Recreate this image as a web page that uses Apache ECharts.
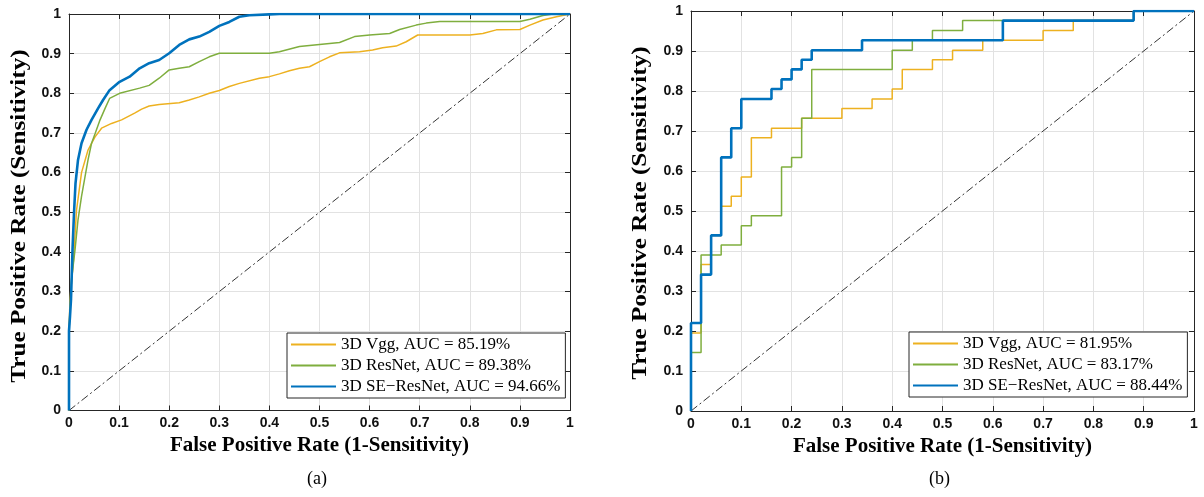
<!DOCTYPE html>
<html>
<head>
<meta charset="utf-8">
<script src="https://cdn.jsdelivr.net/npm/echarts@6/dist/echarts.min.js"></script>
<style>
html,body{margin:0;padding:0;background:#fff;}
#c{width:1204px;height:497px;}
</style>
</head>
<body>
<div id="c"></div>
<script>
// ---------- data ----------
const tickLabels = ['0','0.1','0.2','0.3','0.4','0.5','0.6','0.7','0.8','0.9','1'];
const xTitle = 'False Positive Rate (1-Sensitivity)';
const yTitle = 'True Positive Rate (Sensitivity)';
const captions = ['(a)', '(b)'];

const legendA = ['3D Vgg, AUC = 85.19%', '3D ResNet, AUC = 89.38%', '3D SE\u2212ResNet, AUC = 94.66%'];
const legendB = ['3D Vgg, AUC = 81.95%', '3D ResNet, AUC = 83.17%', '3D SE\u2212ResNet, AUC = 88.44%'];

const chanceFpr = [0, 1];
const chanceTpr = [0, 1];

// (a) smooth ROC curves
const vggA_fpr = [0,0,0.002,0.009,0.015,0.025,0.038,0.052,0.065,0.085,0.105,0.131,0.145,0.16,0.18,0.22,0.24,0.26,0.28,0.3,0.32,0.34,0.38,0.4,0.42,0.44,0.46,0.48,0.5,0.52,0.54,0.58,0.606,0.626,0.653,0.673,0.696,0.8,0.826,0.853,0.9,0.92,0.946,0.973,1];
const vggA_tpr = [0,0.2,0.28,0.38,0.505,0.6,0.657,0.69,0.712,0.724,0.733,0.75,0.76,0.768,0.772,0.776,0.783,0.791,0.8,0.807,0.817,0.825,0.838,0.842,0.849,0.857,0.863,0.867,0.88,0.892,0.902,0.905,0.909,0.915,0.919,0.93,0.947,0.947,0.951,0.96,0.961,0.972,0.985,0.993,1];

const resA_fpr = [0,0,0.005,0.012,0.018,0.025,0.032,0.038,0.045,0.052,0.062,0.072,0.081,0.101,0.141,0.16,0.18,0.2,0.22,0.24,0.26,0.28,0.3,0.4,0.42,0.46,0.5,0.54,0.57,0.6,0.64,0.66,0.693,0.713,0.74,0.9,0.92,0.946,0.966,1];
const resA_tpr = [0,0.2,0.33,0.405,0.481,0.54,0.59,0.632,0.674,0.698,0.733,0.762,0.787,0.8,0.813,0.82,0.838,0.859,0.863,0.867,0.88,0.892,0.901,0.901,0.905,0.918,0.923,0.928,0.943,0.947,0.951,0.961,0.972,0.977,0.981,0.981,0.987,0.996,1,1];

const seA_fpr = [0,0,0.002,0.004,0.007,0.01,0.013,0.018,0.025,0.035,0.045,0.058,0.068,0.081,0.101,0.121,0.141,0.16,0.18,0.2,0.22,0.24,0.26,0.28,0.3,0.32,0.34,0.36,0.4,0.42,1];
const seA_tpr = [0,0.2,0.237,0.28,0.405,0.498,0.573,0.632,0.674,0.708,0.733,0.762,0.783,0.808,0.829,0.842,0.863,0.876,0.884,0.901,0.922,0.936,0.943,0.955,0.97,0.98,0.993,0.997,0.999,1,1];

// (b) step ROC curves (points after each jump)
const vggB_fpr = [0,0,0.02,0.04,0.06,0.08,0.10,0.12,0.16,0.22,0.30,0.36,0.40,0.42,0.48,0.52,0.58,0.70,0.76,0.88,1];
const vggB_tpr = [0,0.195,0.366,0.439,0.512,0.537,0.585,0.683,0.707,0.732,0.756,0.780,0.805,0.854,0.878,0.902,0.927,0.951,0.976,1,1];

const resB_fpr = [0,0,0.02,0.06,0.10,0.12,0.18,0.20,0.22,0.24,0.40,0.44,0.48,0.54,0.88,1];
const resB_tpr = [0,0.146,0.390,0.415,0.463,0.488,0.610,0.634,0.732,0.854,0.902,0.927,0.951,0.976,1,1];

const seB_fpr = [0,0,0.02,0.04,0.06,0.08,0.10,0.16,0.18,0.20,0.22,0.24,0.34,0.62,0.88,1];
const seB_tpr = [0,0.220,0.341,0.439,0.634,0.707,0.780,0.805,0.829,0.854,0.878,0.902,0.927,0.976,1,1];

// ---------- styling ----------
const C_VGG = '#EDB120', C_RES = '#7FAE3E', C_SE = '#0072BD';
const serif = '"Liberation Serif","Times New Roman",serif';
const sans = '"Liberation Sans",Arial,sans-serif';
const axisColor = '#262626';
const gridColor = '#e2e2e2';

const zip = (xs, ys) => xs.map((x, i) => [x, ys[i]]);
const fmt = v => tickLabels[Math.round(v * 10)];

const grids = [
  { left: 69, top: 14, width: 501, height: 396.5 },
  { left: 691, top: 11, width: 503, height: 400 }
];

function baseAxis(gi, pos) {
  return {
    type: 'value', gridIndex: gi, position: pos, min: 0, max: 1, interval: 0.1,
    axisLine: { show: true, onZero: false, lineStyle: { color: axisColor, width: 1 } },
    axisTick: { show: true, inside: true, length: 5, lineStyle: { color: axisColor, width: 1 } },
    splitLine: { show: false },
    axisLabel: { show: false }
  };
}
function labelled(ax, isX) {
  ax.axisLabel = {
    show: true, formatter: fmt, color: '#111', fontFamily: sans, fontWeight: 'bold',
    fontSize: 14, margin: isX ? 6 : 8, showMinLabel: true, showMaxLabel: true
  };
  ax.splitLine = { show: true, lineStyle: { color: gridColor, width: 1 } };
  if (isX) {
    ax.name = xTitle;
    ax.nameLocation = 'middle';
    ax.nameGap = 18;
    ax.nameTextStyle = { fontFamily: serif, fontWeight: 'bold', fontSize: 21, color: '#000' };
  }
  return ax;
}

const xAxes = [], yAxes = [];
[0, 1].forEach(gi => {
  xAxes.push(labelled(baseAxis(gi, 'bottom'), true));
  xAxes.push(baseAxis(gi, 'top'));
  yAxes.push(labelled(baseAxis(gi, 'left'), false));
  yAxes.push(baseAxis(gi, 'right'));
});

function curve(name, xs, ys, color, width, gi, step, z) {
  return {
    type: 'line', name: name, xAxisIndex: gi * 2, yAxisIndex: gi * 2,
    data: zip(xs, ys), symbol: 'none', step: step || false,
    lineStyle: { color: color, width: width }, itemStyle: { color: color },
    z: z, animation: false, clip: true
  };
}
function chance(gi) {
  return {
    type: 'line', name: 'chance' + gi, xAxisIndex: gi * 2, yAxisIndex: gi * 2,
    data: zip(chanceFpr, chanceTpr), symbol: 'none',
    lineStyle: { color: '#333', width: 1, type: [8, 3, 2, 3] },
    z: 1, animation: false, silent: true
  };
}

const series = [
  chance(0),
  curve(legendA[0], vggA_fpr, vggA_tpr, C_VGG, 1.5, 0, false, 2),
  curve(legendA[1], resA_fpr, resA_tpr, C_RES, 1.5, 0, false, 3),
  curve(legendA[2], seA_fpr, seA_tpr, C_SE, 2.6, 0, false, 4),
  chance(1),
  curve(legendB[0], vggB_fpr, vggB_tpr, C_VGG, 1.5, 1, 'end', 2),
  curve(legendB[1], resB_fpr, resB_tpr, C_RES, 1.5, 1, 'end', 3),
  curve(legendB[2], seB_fpr, seB_tpr, C_SE, 2.6, 1, 'end', 4)
];

function legend(names, left, top) {
  return {
    orient: 'vertical', left: left, top: top, data: names,
    itemWidth: 45, itemHeight: 14, itemGap: 4, padding: [3, 5, 3, 3],
    borderColor: axisColor, borderWidth: 1, backgroundColor: '#fff',
    selectedMode: false,
    itemStyle: { opacity: 0 },
    textStyle: { fontFamily: serif, fontSize: 17, color: '#000', lineHeight: 17 }
  };
}

// y-axis titles: vertically stretched like the reference
function yTitleGraphic(cx, cy) {
  return {
    type: 'text', x: cx, y: cy, rotation: Math.PI / 2, scaleX: 1.2, scaleY: 1,
    style: {
      text: yTitle, font: 'bold 21px ' + serif, fill: '#000',
      align: 'center', verticalAlign: 'middle'
    }
  };
}

const option = {
  animation: false,
  backgroundColor: '#fff',
  grid: grids,
  xAxis: xAxes,
  yAxis: yAxes,
  legend: [legend(legendA, 287, 333), legend(legendB, 909, 332)],
  series: series,
  graphic: [
    yTitleGraphic(20, 216),
    yTitleGraphic(641, 213),
    { type: 'text', left: 307, top: 470, style: { text: captions[0], font: '18px ' + serif, fill: '#000' } },
    { type: 'text', left: 929, top: 470, style: { text: captions[1], font: '18px ' + serif, fill: '#000' } }
  ]
};

const chart = echarts.init(document.getElementById('c'));
chart.setOption(option);
</script>
</body>
</html>
